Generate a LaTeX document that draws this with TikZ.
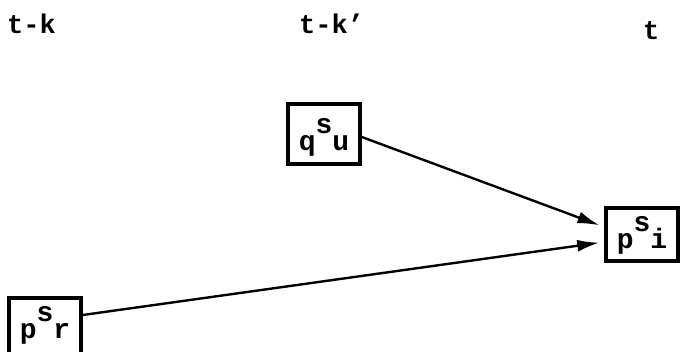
\documentclass[tikz,border=0pt]{standalone}
\usepackage{fontspec}
\setmonofont{Liberation Mono}
\usetikzlibrary{arrows.meta}
\begin{document}
\begin{tikzpicture}[x=1pt,y=-1pt,
  box/.style={draw,line width=3.6pt,minimum width=#1,inner sep=0pt},
  varbox/.style={box=72pt},
  txt/.style={font=\ttfamily\bfseries\fontsize{28}{30}\selectfont,inner sep=0pt,anchor=base},
  timelbl/.style={font=\ttfamily\bfseries\fontsize{27}{29}\selectfont,inner sep=0pt,anchor=base west},
  arr/.style={line width=2.4pt,-{Latex[length=22pt,width=12pt]}}]
\useasboundingbox (0,0) rectangle (680,351);
% time labels
\node[timelbl] (tk) at (7,33) {t-k};
\node[timelbl] (tkp) at (299,33) {t-k\char"2019};
\node[timelbl] (tt) at (643,39) {t};
% boxes
\node[varbox,minimum height=60pt] (qu) at (324,134) {};
\node[varbox,minimum height=53pt] (pi) at (642,234.5) {};
\node[varbox,minimum height=56pt] (pr) at (45,326) {};
% box texts
\node[txt] (qut) at ([yshift=-16pt]qu.center) {q\raisebox{17pt}{s}u};
\node[txt] (pit) at ([yshift=-13.5pt]pi.center) {p\raisebox{17pt}{s}i};
\node[txt] (prt) at ([yshift=-12pt]pr.center) {p\raisebox{17pt}{s}r};
% arrows
\coordinate (piup) at ([yshift=7.5pt]pi.west);
\coordinate (pidn) at ([yshift=-7.5pt]pi.west);
\draw[arr,shorten >=5pt] ([yshift=-3pt]qu.east) -- (piup);
\draw[arr,shorten >=5pt] ([yshift=11pt]pr.east) -- (pidn);
\end{tikzpicture}
\end{document}
